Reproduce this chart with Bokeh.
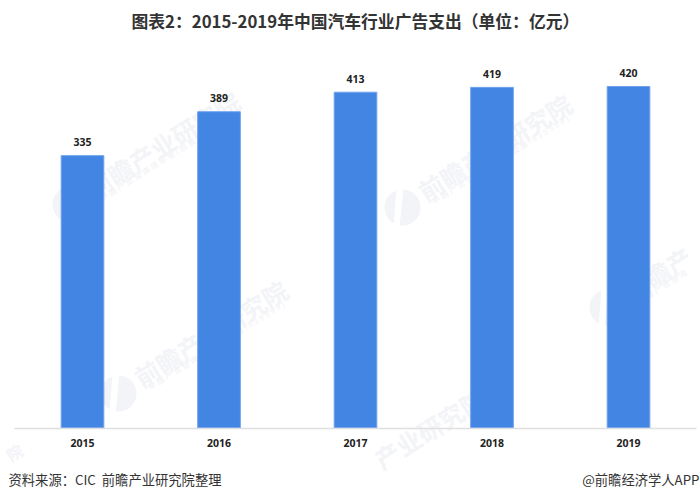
import numpy as np
from bokeh.embed import file_html
from bokeh.models import ColumnDataSource, FixedTicker, Label, PolyAnnotation, Range1d, Title
from bokeh.plotting import figure
from bokeh.resources import INLINE
from bokeh.core.properties import value

years = ["2015", "2016", "2017", "2018", "2019"]
spend = [335, 389, 413, 419, 420]
title_text = "图表2：2015-2019年中国汽车行业广告支出（单位：亿元）"
source_text = "资料来源：CIC\u00a0\u00a0前瞻产业研究院整理"
credit_text = "@前瞻经济学人APP"
wm_main = "前瞻产业研究院"
wm_sub = "中 国 产 业 咨 询 领 导 者 ( 股 票 : 8 3 9 5 9 9 )"

CJK = "Noto Sans CJK SC"
BAR = "#4285e3"
WM = "#f3f4f7"

W, H, TOP = 700, 500, 36
PX_X, X0 = 136.5, 82.0      # px per category, px of the first category
PX_Y, Y0 = 0.813, 427.5     # px per unit, px of the baseline

positions = list(range(len(years)))

p = figure(
    x_range=Range1d(-X0 / PX_X, (W - X0) / PX_X),
    y_range=Range1d(-(H - Y0) / PX_Y, (Y0 - TOP) / PX_Y),
    width=W,
    height=H,
    min_border_left=0,
    min_border_right=0,
    min_border_bottom=0,
    min_border_top=TOP,
    output_backend="svg",
    toolbar_location=None,
    background_fill_color="white",
    border_fill_color="white",
)
p.outline_line_color = None
p.grid.grid_line_color = None
p.yaxis.visible = False

p.title = Title(text=title_text, align="left", offset=131, text_font=CJK, text_font_size="16.8px",
                text_font_style="bold", text_color="#333333", standoff=7)

ax = p.xaxis[0]
ax.fixed_location = 0
ax.bounds = (-0.5, 4.5)
ax.ticker = FixedTicker(ticks=positions)
ax.major_label_overrides = dict(zip(positions, years))
ax.axis_line_color = "#dfdfe2"
ax.axis_line_width = 1.5
ax.major_tick_line_color = None
ax.minor_tick_line_color = None
ax.major_label_text_font = "Noto Sans"
ax.major_label_text_font_style = "bold"
ax.major_label_text_font_size = "10.5px"
ax.major_label_text_color = "#222222"
ax.major_label_standoff = 5


def wm_text(text, px, py, size, angle=32, color=WM):
    p.add_layout(Label(x=px, y=H - py, x_units="screen", y_units="screen",
                       text=text, text_font=CJK, text_font_size=size, text_font_style="bold",
                       text_color=color, angle=angle, angle_units="deg",
                       text_baseline="middle", level="underlay"))


def wm_logo(cx, cy):
    t = np.linspace(0, 2 * np.pi, 48)
    p.add_layout(PolyAnnotation(xs=list(cx + 18 * np.cos(t)),
                                ys=list(H - cy + 18 * np.sin(t)),
                                xs_units="screen", ys_units="screen",
                                fill_color=WM, fill_alpha=1, line_color=None, level="underlay"))
    p.add_layout(PolyAnnotation(xs=[cx - 6, cx + 1, cx - 3, cx - 9],
                                ys=[H - cy + 20, H - cy + 20, H - cy - 20, H - cy - 20],
                                xs_units="screen", ys_units="screen",
                                fill_color="white", fill_alpha=1, line_color=None, level="underlay"))


for lx, ly, main, sub in [(70, 204, wm_main, wm_sub), (402, 207, wm_main, wm_sub),
                          (118, 393, wm_main, wm_sub), (607, 307, "前瞻产", "中 国 产 业 咨 询")]:
    wm_logo(lx, ly)
    wm_text(main, lx + 18, ly - 14, "25px")
    wm_text(sub, lx + 30, ly - 6, "8px", color="#f5f5f8")
wm_text("产业研究院", 376, 461, "25px")
wm_text("院", 7, 456, "16px")

src = ColumnDataSource(dict(pos=positions, spend=spend, label=[str(v) for v in spend]))
p.vbar(x="pos", top="spend", width=0.3125, bottom=0, source=src,
       fill_color=BAR, line_color="#6ea2ee", line_width=1)
p.text(x="pos", y="spend", text="label", source=src, text_align="center", text_baseline="middle",
       y_offset=-13.5, text_font=value("Noto Sans"), text_font_style="bold",
       text_font_size="10.5px", text_color="#222222")

p.add_layout(Label(x=8, y=H - 479, x_units="screen", y_units="screen", text=source_text,
                   text_font=CJK, text_font_size="13.3px", text_color="#333333", text_baseline="middle"))
p.add_layout(Label(x=699, y=H - 479, x_units="screen", y_units="screen", text=credit_text,
                   text_font=CJK, text_font_size="13.3px", text_color="#333333", text_baseline="middle",
                   text_align="right"))

open("out.html", "w").write(file_html(p, INLINE))
